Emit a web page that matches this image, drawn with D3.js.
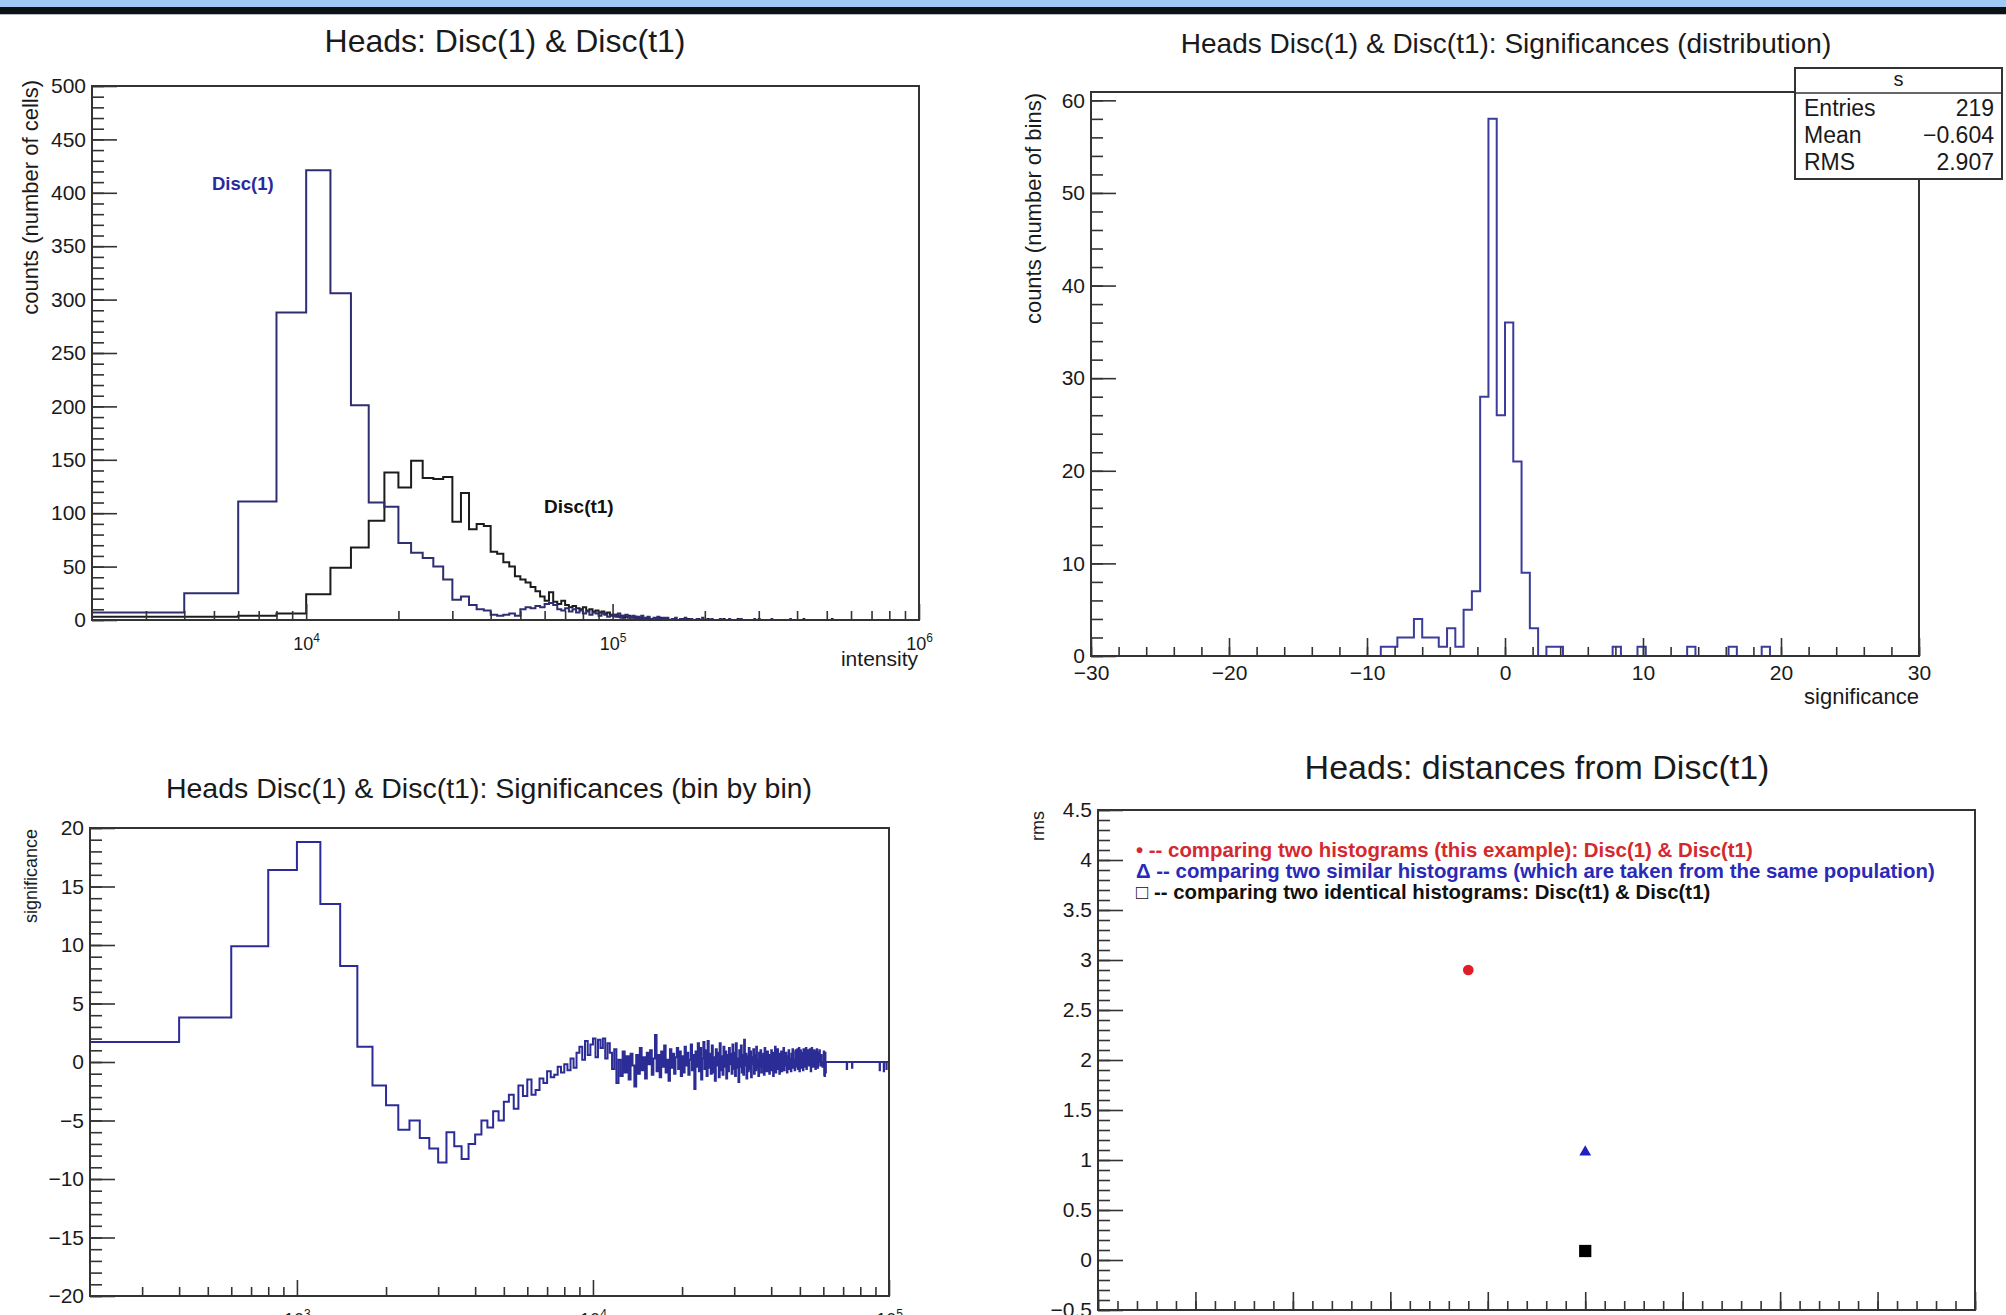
<!DOCTYPE html>
<html>
<head>
<meta charset="utf-8">
<script src="https://cdn.jsdelivr.net/npm/d3@7"></script>
<style>
  body { margin: 0; background: #fff; }
  svg text { font-family: "Liberation Sans", Arial, Helvetica, sans-serif; fill: #1a1a1a; }
</style>
</head>
<body>
<svg id="chart" width="2006" height="1315"></svg>
<script>
// ---- panel 1: intensity histograms, bins of 2000 starting at 2000 ----
const intensityStart = 2000;
const intensityBinWidth = 2000;
const disc1Counts = [7, 25, 111, 288, 421, 306, 201, 110, 106, 72, 63, 58, 50, 38, 19, 22, 14, 10, 9, 5,
  4, 5, 6, 4, 10, 12, 11, 13, 12, 15, 16, 14, 10, 9, 11, 8, 10, 7, 9, 6,
  8, 5, 7, 6, 4, 6, 5, 3, 4];
const discT1Counts = [3, 3, 4, 6, 24, 49, 68, 93, 138, 124, 149, 133, 132, 134, 92, 119, 85, 90, 88, 64,
  62, 54, 50, 41, 38, 35, 31, 27, 22, 18, 26, 17, 15, 18, 14, 12, 13, 11, 10, 12,
  9, 10, 8, 9, 7, 8, 6, 7, 5];
const disc1Tail = [[100000, 5], [102000, 3], [104000, 6], [106000, 2], [108000, 4], [110000, 5], [112000, 2],
  [114000, 3], [116000, 4], [118000, 1], [120000, 3], [122000, 2], [124000, 4], [128000, 2], [130000, 3],
  [134000, 1], [136000, 2], [140000, 3], [144000, 1], [146000, 2], [150000, 2], [156000, 1], [160000, 2],
  [166000, 1], [172000, 2], [180000, 1], [188000, 1], [196000, 2], [210000, 1], [224000, 1], [240000, 1],
  [262000, 1], [290000, 1], [330000, 1], [380000, 1]];
const discT1Tail = [[100000, 4], [102000, 5], [104000, 3], [106000, 4], [108000, 2], [110000, 3], [112000, 4],
  [114000, 2], [116000, 2], [118000, 3], [120000, 1], [124000, 2], [126000, 1], [130000, 2], [134000, 1],
  [138000, 1], [142000, 2], [150000, 1], [158000, 1], [168000, 1], [176000, 1], [190000, 1], [204000, 1],
  [230000, 1], [256000, 1], [300000, 1], [420000, 1], [520000, 1]];

// ---- panel 2: distribution of significances, 100 bins on [-30, 30] ----
const distBinLow = [-9.0, -8.4, -7.8, -7.2, -6.6, -6.0, -5.4, -4.8, -4.2, -3.6, -3.0, -2.4, -1.8, -1.2, -0.6,
  0.0, 0.6, 1.2, 1.8, 3.0, 3.6, 7.8, 9.6, 13.2, 16.2, 18.6];
const distCounts = [1, 1, 2, 2, 4, 2, 2, 1, 3, 1, 5, 7, 28, 58, 26, 36, 21, 9, 3, 1, 1, 1, 1, 1, 1, 1];
const statsRows = [["Entries", "219"], ["Mean", "\u22120.604"], ["RMS", "2.907"]];

// ---- panel 3: bin by bin significance, bins of 200 starting at 200 ----
const sigStart = 200;
const sigBinWidth = 200;
const sigRise = [1.7, 3.8, 9.9, 16.4, 18.8, 13.5, 8.2, 1.3, -2.0, -3.7, -5.8, -5.0, -6.5, -7.4, -8.6, -6.0,
  -7.2, -8.3, -7.0, -6.2, -5.0, -5.6, -4.2, -5.0, -3.4, -2.8, -4.0, -2.0, -2.9, -1.5, -2.8, -2.4, -1.4, -1.8,
  -0.8, -1.3, -1.1, -0.4, -0.9, -0.2, -0.7, 0.3, -0.5, 0.8, 1.3, 0.2, 1.8, 0.6, 1.5];
const sigNoiseA = [2.0, 0.4, 1.9, 1.2, 2.0, 0.3, 1.6, 0.8, -0.6, 1.1, -1.8, 0.2, -1.2, 0.9, -0.9, 0.5, -1.5, 0.7,
  -0.3, -2.1, 0.6, -1.0, 1.2, -0.7, 0.4, -1.4, 0.8, -0.2, 1.0, -1.1, 0.3, 2.3, -0.8, 0.6, -1.3, 0.9, -0.4, 1.4,
  -0.9, 0.2, -1.6, 1.1, -0.5, 0.7, -1.0, 0.4, 1.2, -0.6, 0.9, -1.2,
  0.5, -0.9, 1.3, -0.3, 0.8, -1.1, 0.2, 1.5, -0.7, 0.6, -2.3, 0.9, -0.4, 1.6, -0.8, 1.2, -1.5, 0.3, 1.7, -0.6,
  1.0, -1.2, 1.8, -0.5, 0.7, -1.0, 1.4, -0.9, 0.4, -1.6, 1.1, -0.3, 0.8, -1.3, 1.6, -0.7, 0.5, -1.1, 1.3, -0.4,
  0.9, -1.4, 0.6, -0.8, 1.2, -0.2, 0.7, -1.0, 1.5, -0.6];
const sigNoiseB = [0.8, -1.2, 1.6, -0.5, 0.3, -1.7, 1.0, -0.4, 1.4, -0.9, 0.6, -1.1, 1.9, -0.3, 0.7, -1.4, 0.5,
  -0.8, 1.2, -0.6, 0.9, -1.3, 0.4, -0.2, 1.1, -1.0, 0.6, -0.7, 1.3, -0.5, 0.2, -1.2, 0.8, -0.4, 1.0, -0.9, 0.5,
  -0.3, 0.7, -1.1, 1.2, -0.6, 0.3, -0.8, 0.9, -0.4, 0.6, -1.0, 0.4, -0.2,
  1.0, -0.7, 0.5, -1.2, 0.8, -0.3, 1.3, -0.9, 0.2, -0.6, 1.1, -0.4, 0.7, -1.0, 0.3, -0.5, 0.9, -0.8, 0.4, -0.2,
  1.2, -0.7, 0.6, -0.3, 0.8, 0, -0.9, 0.5, -0.4, 1.0, -0.6, 0.3, 0, -0.8, 0.7, -0.3, 1.1, -0.5, 0.2, 0, -0.7,
  0.9, 1.0, -0.4, 0.3, 1.1, -0.6, 0, 1.2, -0.8];
const sigNoiseC = [0, 1.0, -0.5, 0, 0.8, 0, -0.7, 1.1, 0, -0.4, 0.9, 0, 1.2, -0.6, 0, 0, 1.0, -0.3, 0, 0.7, 1.1,
  0, -0.8, 0, 1.2, 0, 0.5, -0.4, 0, 1.0, 0, 0, -0.6, 0.9, 0, 1.1, 0, -0.5, 0, 0.8, 0, 1.0, 0, -0.3, 0, 0.6, 0, 0,
  -0.4, 0, 0, 0.9, -1.1, -1.2, 0.8, -0.9];
const sigTail = [[72000, -0.6], [75000, -0.5], [93000, -0.7], [96000, -0.8], [98000, -0.6]];

// ---- panel 4: rms distances ----
const rmsX = [3.8, 5, 5];
const rmsY = [2.9, 1.08, 0.09];
const rmsShapes = ["circle", "triangle", "square"];
const rmsColors = ["#e01e28", "#1f1fc4", "#000000"];
const rmsLegend = [
  "\u2022 -- comparing two histograms (this example): Disc(1) & Disc(t1)",
  "\u0394 -- comparing two similar histograms (which are taken from the same population)",
  "\u25A1 -- comparing two identical histograms: Disc(t1) & Disc(t1)"
];
const rmsLegendColors = ["#d42a2e", "#2a2ab8", "#111111"];

const svg = d3.select("#chart");

// header band
svg.append("rect").attr("x", 0).attr("y", 0).attr("width", 2006).attr("height", 7).attr("fill", "#9dc9f4");
svg.append("rect").attr("x", 0).attr("y", 7).attr("width", 2006).attr("height", 7).attr("fill", "#0b1214");
svg.append("rect").attr("x", 0).attr("y", 14).attr("width", 2006).attr("height", 1).attr("fill", "#b8bcbc");

function buildBins(nBins, head, tail, start, width) {
  const v = new Array(nBins).fill(0);
  head.forEach((c, i) => { v[i] = c; });
  tail.forEach(([x, c]) => { v[Math.round((x - start) / width)] = c; });
  return v;
}

function histPath(g, xs, ys, edges, vals, color, clipId) {
  const pts = edges.map((e, i) => [e, vals[Math.min(i, vals.length - 1)]]);
  const line = d3.line().x(d => xs(d[0])).y(d => ys(d[1])).curve(d3.curveStepAfter);
  g.append("path").attr("d", line(pts)).attr("fill", "none").attr("stroke", color)
    .attr("stroke-width", 2).attr("clip-path", "url(#" + clipId + ")");
}

function clip(id, xs, ys) {
  svg.append("clipPath").attr("id", id).append("rect")
    .attr("x", xs.range()[0]).attr("y", ys.range()[1])
    .attr("width", xs.range()[1] - xs.range()[0]).attr("height", ys.range()[0] - ys.range()[1]);
}

function frame(xs, ys) {
  svg.append("rect").attr("x", xs.range()[0]).attr("y", ys.range()[1])
    .attr("width", xs.range()[1] - xs.range()[0]).attr("height", ys.range()[0] - ys.range()[1])
    .attr("fill", "none").attr("stroke", "#333").attr("stroke-width", 2);
}

function styleAxis(g, size) {
  g.select(".domain").remove();
  g.selectAll(".tick line").attr("stroke", "#333").attr("stroke-width", 1.6);
  g.selectAll(".tick text").attr("font-size", size || 21).attr("fill", "#1a1a1a");
}

function yAxis(xs, ys, majors, minors, fmt) {
  const x0 = xs.range()[0];
  const gm = svg.append("g").attr("transform", `translate(${x0},0)`)
    .call(d3.axisLeft(ys).tickValues(minors).tickSize(-12).tickFormat(""));
  styleAxis(gm);
  const g = svg.append("g").attr("transform", `translate(${x0},0)`)
    .call(d3.axisLeft(ys).tickValues(majors).tickSize(-25).tickPadding(6).tickFormat(fmt));
  styleAxis(g);
  return g;
}

function xAxis(xs, ys, majors, minors, fmt, majLen, minLen, pad) {
  const y0 = ys.range()[0];
  const gm = svg.append("g").attr("transform", `translate(0,${y0})`)
    .call(d3.axisBottom(xs).tickValues(minors).tickSize(-minLen).tickFormat(""));
  styleAxis(gm);
  const g = svg.append("g").attr("transform", `translate(0,${y0})`)
    .call(d3.axisBottom(xs).tickValues(majors).tickSize(-majLen).tickPadding(pad).tickFormat(fmt));
  styleAxis(g);
  return g;
}

function logMinors(lo, hi) {
  const out = [];
  for (let d = 1e2; d < hi; d *= 10) {
    for (let k = 2; k <= 9; k++) { const v = k * d; if (v > lo && v < hi) out.push(v); }
  }
  return out;
}

function powerLabels(g) {
  g.selectAll(".tick text").each(function (d) {
    const t = d3.select(this);
    t.text("").attr("font-size", 18);
    t.append("tspan").text("10");
    t.append("tspan").attr("dy", -8).attr("font-size", 12).text(Math.round(Math.log10(d)));
  });
}

function title(x, y, size, text) {
  svg.append("text").attr("x", x).attr("y", y).attr("text-anchor", "middle")
    .attr("dominant-baseline", "middle").attr("font-size", size).text(text);
}

function yTitle(x, yTop, size, text) {
  svg.append("text").attr("transform", `translate(${x},${yTop}) rotate(-90)`)
    .attr("text-anchor", "end").attr("dominant-baseline", "middle")
    .attr("font-size", size).text(text);
}

// ================= panel 1 =================
const p1x = d3.scaleLog().domain([2000, 1e6]).range([92, 919]);
const p1y = d3.scaleLinear().domain([0, 500]).range([620, 86]);
clip("c1", p1x, p1y);
const nInt = Math.round((1e6 - intensityStart) / intensityBinWidth);
const intEdges = d3.range(nInt + 1).map(i => intensityStart + i * intensityBinWidth);
const disc1Vals = buildBins(nInt, disc1Counts, disc1Tail, intensityStart, intensityBinWidth);
const discT1Vals = buildBins(nInt, discT1Counts, discT1Tail, intensityStart, intensityBinWidth);
const g1 = svg.append("g");
histPath(g1, p1x, p1y, intEdges, discT1Vals, "#1c1c1c", "c1");
histPath(g1, p1x, p1y, intEdges, disc1Vals, "#2e2e70", "c1");
yAxis(p1x, p1y, d3.range(0, 501, 50), d3.range(0, 501, 10), d3.format("d"));
powerLabels(xAxis(p1x, p1y, [1e4, 1e5, 1e6], logMinors(2000, 1e6), d => d, 16, 9, 17));
frame(p1x, p1y);
title(505, 44, 32, "Heads: Disc(1) & Disc(t1)");
yTitle(32, 80, 22, "counts (number of cells)");
svg.append("text").attr("x", 918).attr("y", 660).attr("text-anchor", "end")
  .attr("dominant-baseline", "middle").attr("font-size", 21).text("intensity");
svg.append("text").attr("x", 212).attr("y", 185).attr("dominant-baseline", "middle")
  .attr("font-size", 18.5).attr("font-weight", "bold").style("fill", "#2a2aa0").text("Disc(1)");
svg.append("text").attr("x", 544).attr("y", 508).attr("dominant-baseline", "middle")
  .attr("font-size", 19).attr("font-weight", "bold").style("fill", "#111").text("Disc(t1)");

// ================= panel 2 =================
const p2x = d3.scaleLinear().domain([-30, 30]).range([1091, 1919]);
const p2y = d3.scaleLinear().domain([0, 60.9]).range([656, 92]);
clip("c2", p2x, p2y);
const nDist = 100;
const distEdges = d3.range(nDist + 1).map(i => -30 + i * 0.6);
const distVals = new Array(nDist).fill(0);
distBinLow.forEach((lo, i) => { distVals[Math.round((lo + 30) / 0.6)] = distCounts[i]; });
histPath(svg.append("g"), p2x, p2y, distEdges, distVals, "#3c3c9c", "c2");
yAxis(p2x, p2y, d3.range(0, 61, 10), d3.range(0, 61, 2), d3.format("d"));
xAxis(p2x, p2y, d3.range(-30, 31, 10), d3.range(-30, 31, 2), d3.format("d"), 18, 9, 9);
frame(p2x, p2y);
title(1506, 46, 28, "Heads Disc(1) & Disc(t1): Significances (distribution)");
yTitle(1035, 93, 22, "counts (number of bins)");
svg.append("text").attr("x", 1919).attr("y", 698).attr("text-anchor", "end")
  .attr("dominant-baseline", "middle").attr("font-size", 22).text("significance");

// stats box
const sb = { x: 1795, y: 68, w: 207, h: 111, head: 25 };
svg.append("rect").attr("x", sb.x).attr("y", sb.y).attr("width", sb.w).attr("height", sb.h)
  .attr("fill", "#fff").attr("stroke", "#333").attr("stroke-width", 2);
svg.append("line").attr("x1", sb.x).attr("x2", sb.x + sb.w).attr("y1", sb.y + sb.head).attr("y2", sb.y + sb.head)
  .attr("stroke", "#333").attr("stroke-width", 1.5);
svg.append("text").attr("x", sb.x + sb.w / 2).attr("y", sb.y + sb.head / 2).attr("text-anchor", "middle")
  .attr("dominant-baseline", "middle").attr("font-size", 20).text("s");
statsRows.forEach((r, i) => {
  const yy = 110 + i * 27;
  svg.append("text").attr("x", sb.x + 9).attr("y", yy).attr("dominant-baseline", "middle")
    .attr("font-size", 23).text(r[0]);
  svg.append("text").attr("x", sb.x + sb.w - 8).attr("y", yy).attr("text-anchor", "end")
    .attr("dominant-baseline", "middle").attr("font-size", 23).text(r[1]);
});

// ================= panel 3 =================
const p3x = d3.scaleLog().domain([200, 1e5]).range([90, 889]);
const p3y = d3.scaleLinear().domain([-20, 20]).range([1296, 828]);
clip("c3", p3x, p3y);
const nSig = Math.round((1e5 - sigStart) / sigBinWidth);
const sigEdges = d3.range(nSig + 1).map(i => sigStart + i * sigBinWidth);
const sigVals = buildBins(nSig, sigRise.concat(sigNoiseA, sigNoiseB, sigNoiseC), sigTail, sigStart, sigBinWidth);
histPath(svg.append("g"), p3x, p3y, sigEdges, sigVals, "#2c2c96", "c3");
yAxis(p3x, p3y, d3.range(-20, 21, 5), d3.range(-20, 21, 1), d3.format("d"));
powerLabels(xAxis(p3x, p3y, [1e3, 1e4, 1e5], logMinors(200, 1e5), d => d, 16, 9, 17));
frame(p3x, p3y);
title(489, 790, 28.5, "Heads Disc(1) & Disc(t1): Significances (bin by bin)");
yTitle(32, 829, 18, "significance");

// ================= panel 4 =================
const p4x = d3.scaleLinear().domain([0, 9]).range([1098, 1975]);
const p4y = d3.scaleLinear().domain([-0.5, 4.5]).range([1310, 810]);
yAxis(p4x, p4y, d3.range(-0.5, 4.51, 0.5), d3.range(-0.5, 4.51, 0.1), d3.format("~g"));
xAxis(p4x, p4y, d3.range(0, 9.01, 1), d3.range(0, 9.01, 0.2), "", 18, 9, 6);
frame(p4x, p4y);
title(1537, 770, 34, "Heads: distances from Disc(t1)");
yTitle(1039, 811, 18, "rms");
const sym = { circle: d3.symbolCircle, triangle: d3.symbolTriangle, square: d3.symbolSquare };
const symSize = { circle: 90, triangle: 60, square: 150 };
rmsX.forEach((xv, i) => {
  svg.append("path").attr("d", d3.symbol().type(sym[rmsShapes[i]]).size(symSize[rmsShapes[i]])())
    .attr("transform", `translate(${p4x(xv)},${p4y(rmsY[i])})`).attr("fill", rmsColors[i]);
});
rmsLegend.forEach((t, i) => {
  svg.append("text").attr("x", 1136).attr("y", 852 + i * 21).attr("dominant-baseline", "middle")
    .attr("font-size", 20.4).attr("font-weight", "bold").style("fill", rmsLegendColors[i]).text(t);
});
</script>
</body>
</html>
